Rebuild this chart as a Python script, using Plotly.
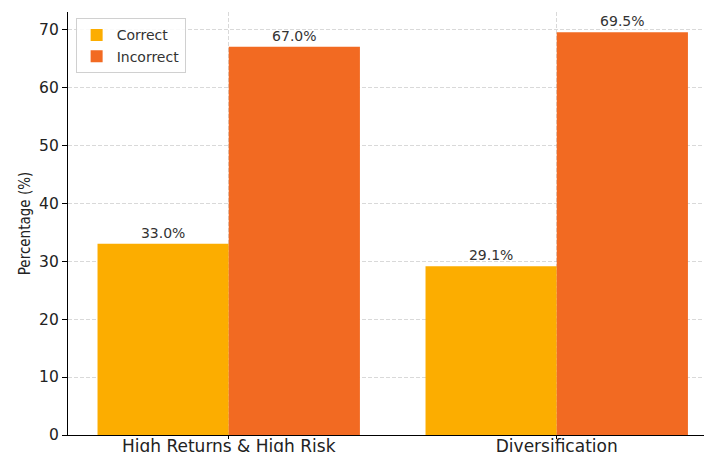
import plotly.graph_objects as go

# Survey results: share of correct vs incorrect answers per topic
categories = ["High Returns & High Risk", "Diversification"]
correct = [33.0, 29.1]
incorrect = [67.0, 69.5]
series_names = ["Correct", "Incorrect"]
y_ticks = [0, 10, 20, 30, 40, 50, 60, 70]

colors = ["#FCAD00", "#F26A22"]
text_color = "#333333"
font_family = "DejaVu Sans, Liberation Sans, sans-serif"

fig = go.Figure()
for name, vals, col in zip(series_names, [correct, incorrect], colors):
    fig.add_trace(go.Bar(
        x=categories,
        y=vals,
        name=name,
        marker=dict(color=col, line=dict(width=0)),
        texttemplate="%{y:.1f}%",
        textposition="outside",
        textfont=dict(size=14, color=text_color, family=font_family),
        cliponaxis=False,
    ))

grid = dict(showgrid=True, gridcolor="rgba(170,170,170,0.45)", griddash="4px,2px", gridwidth=1)

fig.update_layout(
    width=704,
    height=452,
    margin=dict(l=68, r=0, t=12, b=17, autoexpand=False),
    paper_bgcolor="white",
    plot_bgcolor="white",
    barmode="group",
    bargap=0.2,
    bargroupgap=0,
    uniformtext=dict(mode=False),
    font=dict(family=font_family, color=text_color),
    legend=dict(
        x=0.012, y=0.985, xanchor="left", yanchor="top",
        bgcolor="rgba(255,255,255,0.85)",
        bordercolor="#d0d0d0", borderwidth=1,
        font=dict(size=14, color=text_color, family=font_family),
        itemwidth=30,
        tracegroupgap=0,
    ),
    xaxis=dict(
        range=[-0.49, 1.449],
        automargin=False,
        showline=True, linecolor="black", linewidth=1.3,
        ticks="outside", ticklen=3, tickcolor="black",
        ticklabelstandoff=-8,
        tickfont=dict(size=17, color="#222222", family=font_family),
        layer="above traces",
        **grid,
    ),
    yaxis=dict(
        range=[0, 72.975],
        automargin=False,
        tickvals=y_ticks,
        showline=True, linecolor="black", linewidth=1.3,
        ticks="outside", ticklen=5, tickcolor="black",
        tickfont=dict(size=15.5, color="#222222", family=font_family),
        title=dict(
            text="Percentage (%)",
            font=dict(size=15, color="#222222",
                      family="DejaVu Sans Condensed, Liberation Sans Narrow, DejaVu Sans, sans-serif"),
            standoff=4,
        ),
        zeroline=False,
        layer="above traces",
        **grid,
    ),
)

fig.write_html("out.html")
